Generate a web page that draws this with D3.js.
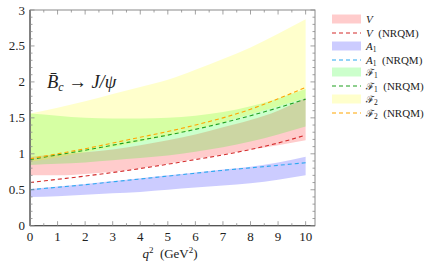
<!DOCTYPE html>
<html>
<head>
<meta charset="utf-8">
<script src="https://cdn.jsdelivr.net/npm/d3@7"></script>
<style>
  body { margin: 0; background: #fff; }
  svg text { font-family: "Liberation Serif", "DejaVu Serif", serif; fill: #222; }
</style>
</head>
<body>
<div id="chart"></div>
<script>
// q^2 grid (GeV^2)
var q2 = [0, 1, 2, 3, 4, 5, 6, 7, 8, 9, 10];

// V form factor band + NRQM line
var vLow  = [0.70, 0.70, 0.72, 0.75, 0.80, 0.86, 0.93, 0.99, 1.06, 1.12, 1.19];
var vHigh = [0.96, 0.99, 1.02, 1.06, 1.12, 1.19, 1.27, 1.37, 1.47, 1.60, 1.78];
var vNrqm = [0.60, 0.645, 0.69, 0.74, 0.795, 0.855, 0.92, 0.985, 1.06, 1.15, 1.26];

// A1
var a1Low  = [0.40, 0.41, 0.43, 0.45, 0.47, 0.50, 0.53, 0.56, 0.59, 0.64, 0.70];
var a1High = [0.51, 0.545, 0.58, 0.62, 0.66, 0.70, 0.74, 0.78, 0.82, 0.88, 0.96];
var a1Nrqm = [0.50, 0.535, 0.57, 0.61, 0.65, 0.69, 0.73, 0.77, 0.805, 0.84, 0.875];

// F1
var f1Low  = [0.845, 0.86, 0.88, 0.91, 0.94, 0.975, 1.03, 1.09, 1.17, 1.27, 1.38];
var f1High = [1.56, 1.53, 1.50, 1.49, 1.49, 1.50, 1.53, 1.58, 1.66, 1.77, 1.90];
var f1Nrqm = [0.92, 0.985, 1.05, 1.12, 1.19, 1.26, 1.34, 1.43, 1.53, 1.64, 1.76];

// F2
var f2Low  = [0.89, 0.95, 1.02, 1.09, 1.17, 1.25, 1.34, 1.44, 1.55, 1.66, 1.78];
var f2High = [1.56, 1.64, 1.73, 1.83, 1.93, 2.03, 2.17, 2.32, 2.48, 2.67, 2.87];
var f2Nrqm = [0.93, 1.00, 1.07, 1.15, 1.23, 1.31, 1.40, 1.50, 1.62, 1.765, 1.925];

var xTicks = [0, 1, 2, 3, 4, 5, 6, 7, 8, 9, 10];
var yTicks = [0, 0.5, 1, 1.5, 2, 2.5, 3];

var bands = [
    { name: "V", sub: "", script: false, low: vLow, high: vHigh, line: vNrqm, fill: "#ff0000", stroke: "#d42a2a" },
    { name: "A", sub: "1", script: false, low: a1Low, high: a1High, line: a1Nrqm, fill: "#0000ff", stroke: "#2aa8f0" },
    { name: "\u2131", sub: "1", script: true, low: f1Low, high: f1High, line: f1Nrqm, fill: "#00ff00", stroke: "#1fa01f" },
    { name: "\u2131", sub: "2", script: true, low: f2Low, high: f2High, line: f2Nrqm, fill: "#ffff00", stroke: "#ffa500" }
];

var w = 428, h = 272;
var padL = 30, padR = 315, padT = 10, padB = 225.7;

var svg = d3.select("#chart").append("svg")
    .attr("width", w)
    .attr("height", h);

var x = d3.scaleLinear().domain([0, 10.34]).range([padL, padR]);
var y = d3.scaleLinear().domain([0, 3]).range([padB, padT]);

// bands
var area = d3.area()
    .x((d, i) => x(q2[i]))
    .y0(d => y(d[0]))
    .y1(d => y(d[1]))
    .curve(d3.curveMonotoneX);

var line = d3.line()
    .x((d, i) => x(q2[i]))
    .y(d => y(d))
    .curve(d3.curveMonotoneX);

bands.forEach(b => {
    svg.append("path")
        .datum(b.low.map((v, i) => [v, b.high[i]]))
        .attr("d", area)
        .attr("fill", b.fill)
        .attr("fill-opacity", 0.2);
});
bands.forEach(b => {
    svg.append("path")
        .datum(b.line)
        .attr("d", line)
        .attr("fill", "none")
        .attr("stroke", b.stroke)
        .attr("stroke-width", 1.1)
        .attr("stroke-dasharray", "4,3");
});

// frame + ticks
var axisColor = "#8a8a8a";
svg.append("rect")
    .attr("x", padL).attr("y", padT)
    .attr("width", padR - padL).attr("height", padB - padT)
    .attr("fill", "none")
    .attr("stroke", axisColor)
    .attr("stroke-width", 1);
svg.append("line")
    .attr("x1", padL).attr("x2", padL).attr("y1", padT).attr("y2", padB)
    .attr("stroke", "#555").attr("stroke-width", 1.2);
svg.append("line")
    .attr("x1", padL).attr("x2", padR).attr("y1", padB).attr("y2", padB)
    .attr("stroke", "#555").attr("stroke-width", 1.2);

var xMinor = d3.range(0.5, 10.3, 1);
var yMinor = d3.range(0, 3.001, 0.1).filter(v => Math.abs(v * 2 - Math.round(v * 2)) > 1e-6);

var ticks = svg.append("g").attr("stroke", axisColor).attr("stroke-width", 0.8);
xTicks.forEach(v => {
    ticks.append("line").attr("x1", x(v)).attr("x2", x(v)).attr("y1", padB).attr("y2", padB - 4.5);
    ticks.append("line").attr("x1", x(v)).attr("x2", x(v)).attr("y1", padT).attr("y2", padT + 4.5);
});
xMinor.forEach(v => {
    ticks.append("line").attr("x1", x(v)).attr("x2", x(v)).attr("y1", padB).attr("y2", padB - 2.5);
    ticks.append("line").attr("x1", x(v)).attr("x2", x(v)).attr("y1", padT).attr("y2", padT + 2.5);
});
yTicks.forEach(v => {
    ticks.append("line").attr("x1", padL).attr("x2", padL + 4.5).attr("y1", y(v)).attr("y2", y(v));
    ticks.append("line").attr("x1", padR).attr("x2", padR - 4.5).attr("y1", y(v)).attr("y2", y(v));
});
yMinor.forEach(v => {
    ticks.append("line").attr("x1", padL).attr("x2", padL + 2.5).attr("y1", y(v)).attr("y2", y(v));
    ticks.append("line").attr("x1", padR).attr("x2", padR - 2.5).attr("y1", y(v)).attr("y2", y(v));
});

// tick labels
svg.append("g").selectAll("text")
    .data(xTicks)
    .enter().append("text")
    .attr("x", d => x(d))
    .attr("y", padB + 15.5)
    .attr("text-anchor", "middle")
    .attr("font-size", 13)
    .text(d => d);

svg.append("g").selectAll("text")
    .data(yTicks)
    .enter().append("text")
    .attr("x", padL - 5)
    .attr("y", d => y(d) + 4.5)
    .attr("text-anchor", "end")
    .attr("font-size", 13)
    .text(d => d);

// axis label
var xl = svg.append("text")
    .attr("x", 170).attr("y", 258)
    .attr("text-anchor", "middle")
    .attr("font-size", 13);
xl.append("tspan").attr("font-style", "italic").text("q");
xl.append("tspan").attr("font-size", 9).attr("dy", -5).text("2");
xl.append("tspan").attr("dy", 5).text("\u2002(GeV");
xl.append("tspan").attr("font-size", 9).attr("dy", -5).text("2");
xl.append("tspan").attr("dy", 5).text(")");

// annotation
var ann = svg.append("text")
    .attr("x", 47).attr("y", 88)
    .attr("font-size", 18.5);
ann.append("tspan").attr("font-style", "italic").text("B\u0304");
ann.append("tspan").attr("font-style", "italic").attr("font-size", 12).attr("dy", 3).text("c");
ann.append("tspan").attr("dy", -3).text(" \u2192 ");
ann.append("tspan").attr("font-style", "italic").text("J/\u03c8");

// legend
var legend = svg.append("g");
var rowY = [19, 33, 46, 60, 72, 86, 99, 113];
bands.forEach((b, i) => {
    var y1 = rowY[2 * i], y2 = rowY[2 * i + 1];
    legend.append("rect")
        .attr("x", 332).attr("y", y1 - 4.5)
        .attr("width", 29).attr("height", 9)
        .attr("fill", b.fill).attr("fill-opacity", 0.2);
    legend.append("line")
        .attr("x1", 332).attr("x2", 361).attr("y1", y2).attr("y2", y2)
        .attr("stroke", b.stroke).attr("stroke-width", 1.1)
        .attr("stroke-dasharray", "4,3");

    [y1, y2].forEach((yy, k) => {
        var t = legend.append("text")
            .attr("x", 366).attr("y", yy + 3.5)
            .attr("font-size", 11);
        t.append("tspan")
            .attr("font-style", b.script ? "normal" : "italic")
            .attr("font-family", b.script ? "DejaVu Serif, serif" : null)
            .attr("font-size", b.script ? 10 : null)
            .text(b.name);
        if (b.sub) t.append("tspan").attr("font-size", 7.5).attr("dy", 2.5).text(b.sub);
        if (k === 1) t.append("tspan").attr("dy", b.sub ? -2.5 : 0).text("\u2002(NRQM)");
    });
});
</script>
</body>
</html>
